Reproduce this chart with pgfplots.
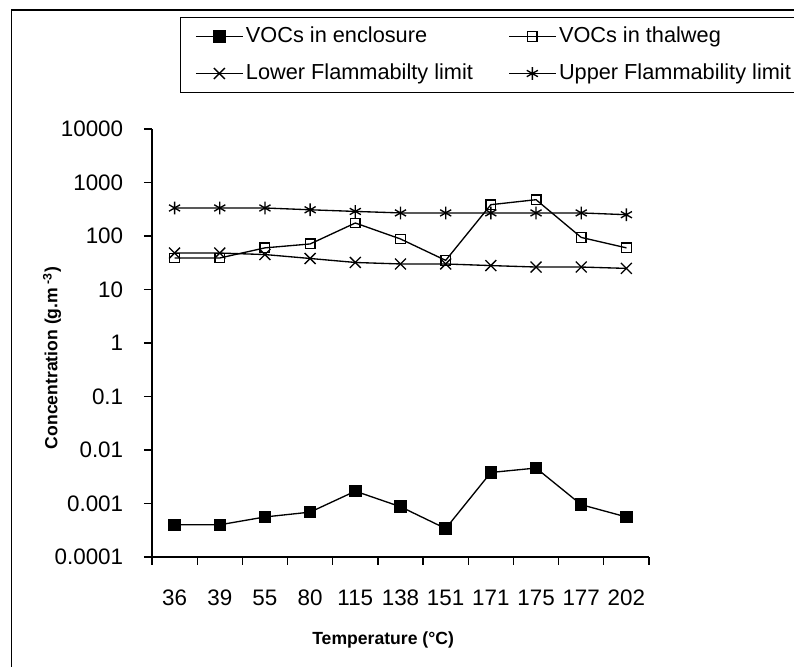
\documentclass[border=0pt]{standalone}
\usepackage{pgfplots}
\pgfplotsset{compat=1.18}
\usepackage{fontspec}
\setmainfont{Liberation Sans}

% categories on the x axis
\pgfplotstableread{
x  enc      thal  lfl   ufl
0  0.00040  38.8  48    334
1  0.00040  38.8  48    334
2  0.00056  60    45    334
3  0.00069  71    38    309
4  0.0017   175   32    288
5  0.00087  88    30    270
6  0.00034  35    30    270
7  0.0038   385   28    270
8  0.0046   477   26.3  270
9  0.00095  94    26.3  270
10 0.00056  60    24.8  250
}\voc

\begin{document}
\fontsize{16.3}{19.6}\selectfont
\begin{tikzpicture}[x=0.75pt,y=0.75pt]
\useasboundingbox (0,0) rectangle (794,667);
\clip (0,0) rectangle (794,667);
\draw[line width=1pt] (11.5,657) rectangle (820,-20);

\begin{axis}[
  at={(114pt,82.5pt)}, anchor=south west,
  scale only axis,
  width=372.75pt, height=321pt,
  ymode=log,
  ymin=1e-4, ymax=1e4,
  xmin=-0.5, xmax=10.5,
  axis lines*=left,
  axis line style={-, line width=1pt},
  tick style={line width=1pt, black},
  tick align=outside,
  major tick length=6pt,
  xtick={-0.5,0.5,...,10.5},
  x tick label as interval,
  xticklabels={36,39,55,80,115,138,151,171,175,177,202},
  ytick={1e-4,1e-3,1e-2,1e-1,1,10,100,1000,10000},
  yticklabels={0.0001,0.001,0.01,0.1,1,10,100,1000,10000},
  yminorticks=false,
  /pgf/number format/assume math mode=true,
  tick label style={font=\fontsize{16.8}{20}\selectfont},
  xticklabel style={yshift=-13pt},
  yticklabel style={xshift=-10pt},
  xlabel={\fontsize{13.2}{15}\selectfont\bfseries Temperature (°C)},
  ylabel={\fontsize{13.2}{15}\selectfont\bfseries Concentration (g.m\textsuperscript{ -3})},
  every axis x label/.style={at={(axis description cs:0.465,-0.194)}, anchor=center},
  every axis y label/.style={at={(axis description cs:-0.201,0.465)}, anchor=center, rotate=90},
  legend columns=2,
  legend cell align=left,
  legend style={
    at={(axis description cs:0.0563,1.2617)}, anchor=north west,
    draw=black, line width=1pt,
    inner xsep=11pt, inner ysep=5pt,
    nodes={inner sep=2pt, text depth=0.15em},
    row sep=9.5pt,
    /tikz/every even column/.append style={column sep=24.5pt},
  },
  legend image code/.code={
    \draw[mark repeat=2, mark phase=2, #1]
      plot coordinates {(0pt,0pt) (17.5pt,0pt) (35pt,0pt)};
  },
]
\addplot[black, line width=1pt, mark=square*, mark size=4.2pt, mark options={solid}]
  table[x=x, y=enc] {\voc};
\addlegendentry{VOCs in enclosure}
\addplot[black, line width=1pt, mark=square, mark size=3.6pt, mark options={solid, fill=none}]
  table[x=x, y=thal] {\voc};
\addlegendentry{VOCs in thalweg}
\addplot[black, line width=1pt, mark=x, mark size=5.8pt]
  table[x=x, y=lfl] {\voc};
\addlegendentry{Lower Flammabilty limit}
\addplot[black, line width=1pt, mark=asterisk, mark size=4.8pt]
  table[x=x, y=ufl] {\voc};
\addlegendentry{Upper Flammability limit}
\end{axis}
\end{tikzpicture}
\end{document}
